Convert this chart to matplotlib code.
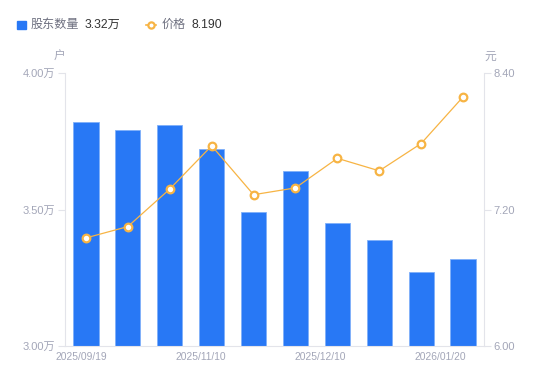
import matplotlib.pyplot as plt
import numpy as np

plt.rcParams['font.family'] = ['Liberation Sans', 'Noto Sans CJK SC', 'DejaVu Sans']

# data
dates = ['2025/09/19', '2025/09/30', '2025/10/20', '2025/10/31', '2025/11/10',
         '2025/11/20', '2025/11/28', '2025/12/10', '2025/12/31', '2026/01/20']
holders = [3.82, 3.79, 3.81, 3.72, 3.49, 3.64, 3.45, 3.39, 3.27, 3.32]  # 万户
price = [6.95, 7.05, 7.38, 7.76, 7.33, 7.39, 7.65, 7.54, 7.78, 8.19]
xtick_labels = ['2025/09/19', '2025/11/10', '2025/12/10', '2026/01/20']
left_ticks = [3.00, 3.50, 4.00]
right_ticks = [6.00, 7.20, 8.40]

bar_color = '#2878f5'
line_color = '#f7b444'
tick_color = '#a3a6b8'
axis_color = '#e3e4ea'

fig = plt.figure(figsize=(5.5, 3.81), dpi=100)
ax = fig.add_axes([65 / 550, 35 / 381, 419 / 550, 273 / 381])
ax2 = ax.twinx()

x = np.arange(len(dates))
ax.bar(x, holders, width=0.6, color=bar_color, edgecolor='#7fb0fa', linewidth=0.6, zorder=2)
ax.set_xlim(-0.5, len(dates) - 0.5)
ax.set_ylim(3.0, 4.0)
ax.set_yticks(left_ticks)
ax.set_yticklabels([f'{v:.2f}万' for v in left_ticks])

ax2.plot(x, price, color=line_color, linewidth=0.9, marker='o', markersize=5.5,
         markerfacecolor='white', markeredgecolor=line_color, markeredgewidth=1.6, zorder=3)
ax2.set_ylim(6.0, 8.4)
ax2.set_yticks(right_ticks)
ax2.set_yticklabels([f'{v:.2f}' for v in right_ticks])

# date labels sit a little left of their bars in the reference
ax.set_xticks([-0.1, 2.75, 5.6, 8.45])
ax.set_xticklabels(xtick_labels)

for a in (ax, ax2):
    a.spines['top'].set_visible(False)
    a.spines['left'].set_color(axis_color)
    a.spines['right'].set_color(axis_color)
    a.spines['bottom'].set_color(axis_color)
    a.tick_params(colors=tick_color, labelsize=8, length=5, width=0.8, color=axis_color, pad=2)
ax.tick_params(axis='x', length=0, pad=4, labelsize=7.4)
ax.spines['right'].set_visible(False)
ax2.spines['left'].set_visible(False)
ax2.spines['bottom'].set_visible(False)

# unit labels
fig.text(59 / 550, 1 - 57 / 381, '户', color=tick_color, fontsize=8.5, ha='center', va='center')
fig.text(490 / 550, 1 - 57 / 381, '元', color=tick_color, fontsize=8.5, ha='center', va='center')

# legend row
ly = 1 - 25 / 381
fig.patches.append(plt.Rectangle((17 / 550, 1 - 29 / 381), 8.5 / 550, 8 / 381,
                                 transform=fig.transFigure, color=bar_color, figure=fig))
fig.text(31 / 550, ly, '股东数量', color='#6e7080', fontsize=8.7, va='center')
fig.text(85 / 550, ly, f'{holders[-1]:.2f}万', color='#333333', fontsize=8.7, va='center')
fig.lines.append(plt.Line2D([146 / 550, 156 / 550], [ly, ly], transform=fig.transFigure,
                            color=line_color, linewidth=1.2))
fig.lines.append(plt.Line2D([151 / 550], [ly], transform=fig.transFigure, color=line_color,
                            marker='o', markersize=4.5, markerfacecolor='white',
                            markeredgewidth=1.6, linestyle='none'))
fig.text(161.5 / 550, ly, '价格', color='#6e7080', fontsize=8.7, va='center')
fig.text(191.5 / 550, ly, f'{price[-1]:.3f}', color='#333333', fontsize=8.7, va='center')

fig.savefig('out.png', dpi=100)
